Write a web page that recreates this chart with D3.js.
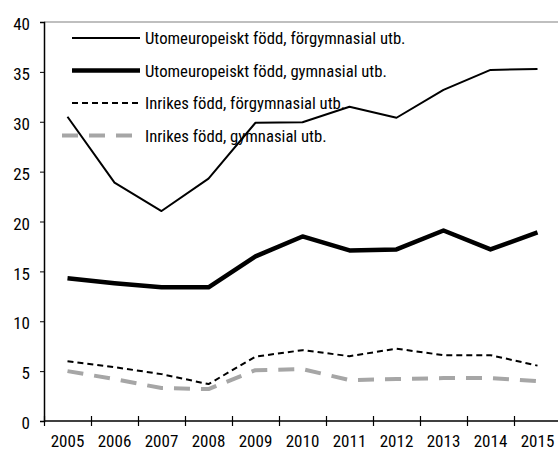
<!DOCTYPE html>
<html>
<head>
<meta charset="utf-8">
<script src="https://cdn.jsdelivr.net/npm/d3@7"></script>
<style>
  body { margin: 0; background: #fff; }
  text { font-family: 'Roboto Condensed', 'Roboto', sans-serif; font-stretch: condensed; }
</style>
</head>
<body>
<div id="chart"></div>
<script>
const years = ['2005', '2006', '2007', '2008', '2009', '2010', '2011', '2012', '2013', '2014', '2015'];
const utomForgymn = [30.5, 23.9, 21.05, 24.3, 29.9, 29.95, 31.5, 30.4, 33.2, 35.2, 35.3];
const utomGymn = [14.3, 13.8, 13.4, 13.4, 16.5, 18.5, 17.1, 17.2, 19.1, 17.2, 18.9];
const inrikesForgymn = [6.0, 5.4, 4.7, 3.7, 6.45, 7.1, 6.5, 7.25, 6.6, 6.6, 5.55];
const inrikesGymn = [5.0, 4.2, 3.3, 3.2, 5.1, 5.2, 4.1, 4.2, 4.3, 4.3, 4.0];
const yTicks = [0, 5, 10, 15, 20, 25, 30, 35, 40];

const WIDTH = 558;
const HEIGHT = 450;
const margin = { top: 22, right: 0, bottom: 29, left: 44 };

const series = [
  { name: 'Utomeuropeiskt född, förgymnasial utb.', values: utomForgymn, stroke: '#000', width: 2, dash: null },
  { name: 'Utomeuropeiskt född, gymnasial utb.', values: utomGymn, stroke: '#000', width: 4.5, dash: null },
  { name: 'Inrikes född, förgymnasial utb.', values: inrikesForgymn, stroke: '#000', width: 2, dash: '6,4' },
  { name: 'Inrikes född, gymnasial utb.', values: inrikesGymn, stroke: '#a6a6a6', width: 4, dash: '16,11' },
];

const svg = d3
  .select('#chart')
  .append('svg')
  .attr('width', WIDTH)
  .attr('height', HEIGHT);

const x = d3
  .scaleBand()
  .domain(years)
  .range([margin.left, WIDTH - margin.right + 3]);

const xEdge = d3
  .scaleLinear()
  .domain([0, years.length])
  .range([margin.left, WIDTH - margin.right + 3]);

const y = d3
  .scaleLinear()
  .domain([0, 40])
  .range([HEIGHT - margin.bottom, margin.top]);

// top border
svg
  .append('line')
  .attr('x1', margin.left)
  .attr('x2', WIDTH)
  .attr('y1', y(40))
  .attr('y2', y(40))
  .attr('stroke', '#808080')
  .attr('stroke-width', 1.2);

// y axis
const yAxis = svg
  .append('g')
  .attr('transform', `translate(${margin.left}, 0)`)
  .call(d3.axisLeft(y).tickValues(yTicks).tickSize(4).tickPadding(10));
yAxis.select('.domain').attr('stroke-width', 1.5);
yAxis.selectAll('text').attr('font-size', 17).attr('fill', '#000').attr('dy', '0.45em');

// x axis tick marks at band edges
const xTicks = svg
  .append('g')
  .call(
    d3
      .axisBottom(xEdge)
      .tickValues(d3.range(0, years.length))
      .tickSize(10)
      .tickFormat('')
  )
  .attr('transform', `translate(0, ${y(0) - 5})`);
xTicks.select('.domain').remove();
xTicks.selectAll('line').attr('stroke-width', 1.2);

// x axis labels
const xAxis = svg
  .append('g')
  .attr('transform', `translate(0, ${y(0)})`)
  .call(d3.axisBottom(x).tickSize(0).tickPadding(14));
xAxis.select('.domain').attr('stroke-width', 1.5).attr('d', `M${margin.left},0H${WIDTH}`);
xAxis.selectAll('text').attr('font-size', 17).attr('fill', '#000');

// legend
const legend = svg
  .append('g')
  .selectAll('g')
  .data(series)
  .enter()
  .append('g')
  .attr('transform', (d, i) => `translate(72, ${38 + i * 32.5})`);

legend
  .append('line')
  .attr('x1', (d, i) => (i === 3 ? 62 - 72 : 0))
  .attr('x2', 68)
  .attr('stroke', (d) => d.stroke)
  .attr('stroke-width', (d) => d.width)
  .attr('stroke-dasharray', (d) => d.dash);

legend
  .append('text')
  .attr('x', 73)
  .attr('y', 6)
  .attr('font-size', 16.7)
  .text((d) => d.name);

const line = d3
  .line()
  .x((d, i) => x(years[i]) + x.bandwidth() / 2)
  .y((d) => y(d));

svg
  .append('g')
  .selectAll('path')
  .data(series)
  .enter()
  .append('path')
  .attr('d', (d) => line(d.values))
  .attr('fill', 'none')
  .attr('stroke', (d) => d.stroke)
  .attr('stroke-width', (d) => d.width)
  .attr('stroke-dasharray', (d) => d.dash)
  .attr('stroke-linejoin', 'round');
</script>
</body>
</html>
